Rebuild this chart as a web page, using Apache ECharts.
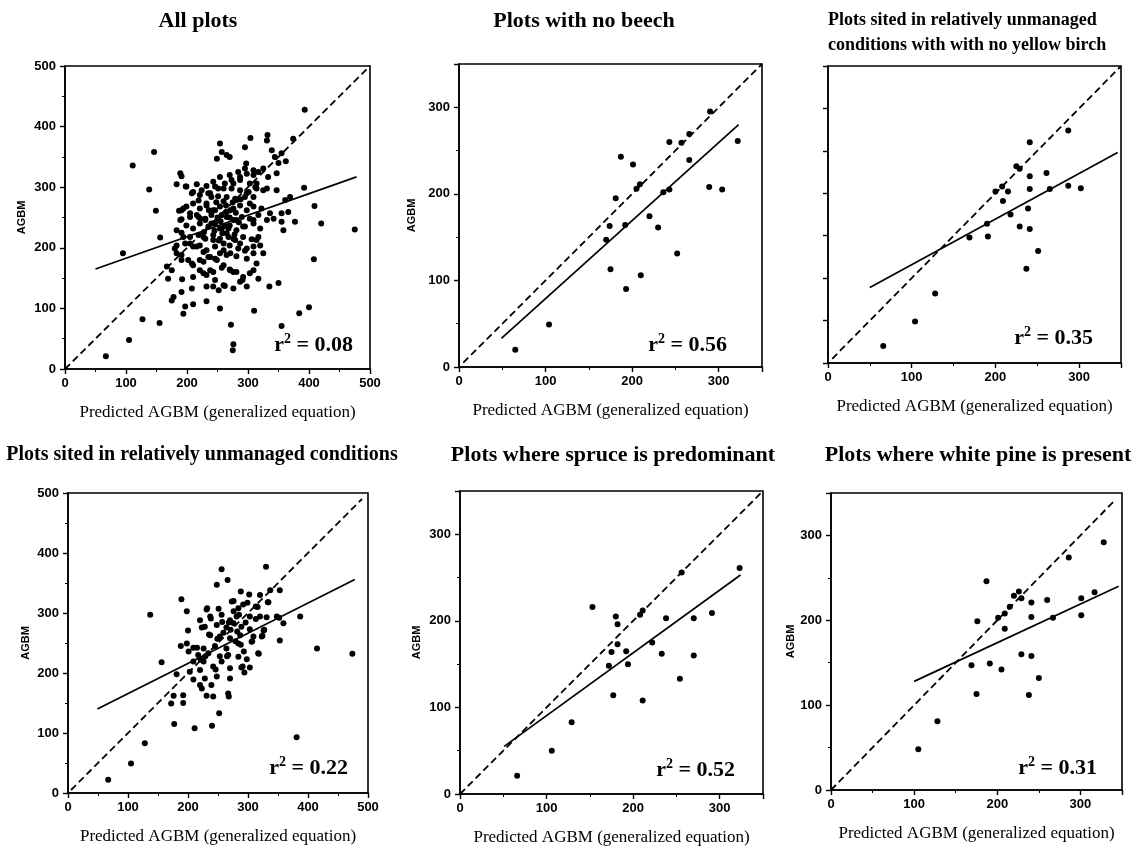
<!DOCTYPE html>
<html><head><meta charset="utf-8">
<script src="https://cdn.jsdelivr.net/npm/echarts@6/dist/echarts.min.js"></script>
<style>html,body{margin:0;padding:0;background:#fff}#chart{width:1144px;height:856px}</style>
</head><body><div id="chart"></div>
<script>
// ---------------- DATA ----------------
const panelTitles = [
  'All plots',
  'Plots with no beech',
  'Plots sited in relatively unmanaged\nconditions with with no yellow birch',
  'Plots sited in relatively unmanaged conditions',
  'Plots where spruce is predominant',
  'Plots where white pine is present'
];
const r2Values = ['0.08', '0.56', '0.35', '0.22', '0.52', '0.31'];
const axisMaxima = [500, 350, 350, 500, 350, 350];
const xAxisTitle = 'Predicted AGBM (generalized equation)';
const yAxisTitle = 'AGBM';

const oneToOneLines = [
  [[0, 0], [500, 500]],
  [[5, 5], [350, 350]],
  [[5, 5], [350, 350]],
  [[5, 5], [490, 490]],
  [[0, 0], [350, 350]],
  [[0, 0], [340, 340]]
];
const fitLines = [
  [[50, 165], [478, 317]],
  [[49, 33], [323, 280]],
  [[50, 89], [346, 248]],
  [[49, 140], [478, 356]],
  [[51, 55], [324, 253]],
  [[100, 128], [346, 240]]
];

const allPlotsPoints = [
  [67,21],[105,48],[95,191],[111,336],[127,82],[138,296],[146,358],[149,261],[155,76],[156,217],
  [194,91],[197,103],[210,107],[189,323],[191,318],[393,428],[392,299],[409,269],[420,240],[408,181],
  [475,230],[384,92],[400,102],[355,71],[350,142],[335,136],[317,149],[310,96],[272,73],[276,41],
  [275,31],[254,100],[232,112],[252,130],[262,137],[178,119],[175,113],[191,127],[169,149],[192,148],
  [175,163],[167,169],[180,199],[183,204],[191,247],[187,261],[191,225],[183,305],[198,301],[208,290],
  [216,305],[232,302],
  [254,372],[257,358],[249,347],[265,353],[270,350],[295,366],[304,381],[297,339],[332,386],[331,377],
  [339,361],[344,350],[355,356],[362,343],[374,380],[350,340],
  [254,317],[270,320],[284,325],[295,331],[309,320],[317,325],[325,331],[333,317],[347,323],[287,312],
  [276,306],[303,306],[314,306],[243,309],
  [199,301],[246,301],[260,298],[273,298],[287,295],[301,292],[314,298],[325,295],[331,298],[347,295],
  [221,287],[238,290],[251,285],[265,284],[279,281],[295,284],[309,284],[361,279],[369,284],
  [191,262],[199,268],[210,273],[221,265],[232,270],[243,262],[254,268],[265,259],[276,265],[287,270],
  [298,262],[309,268],[322,265],[336,257],[355,257],[366,259],[189,246],[205,251],[216,254],[230,248],
  [240,254],[251,248],[265,251],[276,246],[290,251],[303,248],[317,254],[331,246],[342,248],[377,243],
  [199,237],[210,232],[221,240],[235,235],[246,240],[257,232],[270,237],[281,229],[295,235],[309,240],
  [320,232],[358,229],[355,243],[205,218],[219,221],[230,215],[243,221],[254,215],[268,218],[279,213],
  [292,218],[306,214],[314,213],
  [197,207],[210,202],[221,204],[232,196],[246,202],[260,196],[270,204],[284,199],[295,195],[309,202],
  [320,204],[325,191],[191,188],[202,180],[221,180],[235,185],[246,182],[265,188],[281,186],[298,182],
  [208,174],[227,177],[243,160],[257,167],[270,164],[276,160],[309,163],[210,152],[227,158],[238,163],
  [291,147],[208,133],[232,136],[243,136],[298,136],
  [240,240],[245,228],[250,250],[255,244],[260,277],[262,236],[248,275],[270,250],[275,275],[280,258],
  [285,242],[258,224],[236,262],[228,226],[222,248],[268,232],[288,280],[278,222],[252,212],[264,270],
  [210,292],[219,278],[232,273],[240,284],[251,298],[262,306],[273,312],[287,317],[298,322],[309,328],
  [194,265],[205,257],[219,251],[230,246],[243,240],[254,232],[265,224],[276,215],[287,207],[298,199],
  [309,191],[183,229],[194,218],[205,207],[216,202],[227,193],[238,185],[249,180],[260,171],[271,163],
  [281,160],[292,152],[183,191],[191,180],[210,171],[221,163],[232,155],[246,147],[260,138],[276,133],
  [287,144],[303,158],[314,174],[317,218],[309,246],[303,273],[312,300],[298,290],[281,279],[271,262],
  [257,254],[246,262],[235,290],[224,295],[281,246],[292,235],[260,207],[243,213],[227,218],[271,191],
  [254,191]
];

const noBeechPoints = [
  [65,20],[104,49],[170,147],[174,163],[175,113],[181,195],[187,243],[192,164],[193,90],[201,234],
  [205,206],[209,211],[210,106],[220,174],[230,161],[236,202],[243,205],[243,260],[252,131],[257,259],
  [266,269],[266,239],[289,208],[290,295],[304,205],[322,261]
];

const unmanagedNoYellowBirchPoints = [
  [66,20],[104,49],[128,82],[169,148],[190,164],[191,149],[200,202],[208,208],[209,191],[215,202],
  [218,175],[225,232],[229,229],[229,161],[237,111],[239,182],[241,260],[241,220],[241,205],[241,158],
  [251,132],[261,224],[265,205],[287,274],[287,209],[302,206]
];

const unmanagedPoints = [
  [67,22],[105,49],[128,83],[474,232],
  [256,373],[330,377],[266,355],[248,347],[189,323],[198,303],[288,336],[302,331],[276,320],[292,314],
  [337,338],[353,338],[320,330],[333,318],[232,308],[251,307],[284,308],[313,311],[220,288],[223,276],
  [238,291],[256,297],[270,288],[281,294],[303,294],[320,294],[331,293],[348,294],[387,294],[228,277],
  [248,280],[264,276],[276,283],[289,277],[303,273],[326,271],[359,283],[200,271],[237,263],[253,261],
  [270,258],[287,263],[309,261],[323,261],[353,254],[198,249],[188,245],[209,242],[226,241],[245,245],
  [264,241],[284,249],[306,252],[415,241],[217,230],[234,233],[253,228],[267,230],[284,227],[298,223],
  [317,233],[156,218],[209,219],[226,219],[242,211],[256,219],[270,208],[289,209],[303,209],[181,198],
  [203,202],[220,205],[228,191],[248,194],[270,191],[294,201],[220,180],[239,180],[223,174],[176,162],
  [192,163],[231,162],[242,161],[267,166],[268,161],[172,149],[192,150],[252,133],[177,115],[211,108],
  [240,112],[381,93],[137,297],
  [201,236],[215,242],[229,228],[235,264],[237,294],[246,206],[249,257],[257,285],[259,267],[265,228],
  [268,284],[271,272],[273,319],[276,303],[279,253],[282,269],[285,297],[288,247],[291,211],[293,236],
  [296,284],[299,317],[307,253],[313,290],[316,310],[318,232],[324,262],[327,272],[334,318],[352,292],
  [221,222],[209,189],[231,306]
];

const sprucePoints = [
  [66,21],[106,50],[129,83],[153,216],[172,148],[175,164],[177,114],[180,205],[182,196],[182,173],
  [192,165],[194,150],[208,207],[211,212],[211,108],[222,175],[233,162],[238,203],[254,133],[256,256],
  [270,203],[270,160],[291,209],[323,261]
];

const whitePinePoints = [
  [105,48],[128,81],[169,147],[175,113],[176,199],[187,246],[191,149],[201,203],[205,142],[209,208],
  [209,190],[215,216],[220,229],[226,234],[229,226],[229,160],[238,112],[241,221],[241,158],[241,204],
  [250,132],[260,224],[267,203],[286,274],[301,226],[301,206],[317,233],[328,292]
];

const panelPoints = [allPlotsPoints, noBeechPoints, unmanagedNoYellowBirchPoints,
  unmanagedPoints, sprucePoints, whitePinePoints];

// ---------------- LAYOUT / STYLE ----------------
const layout = [
  {left:65, top:66, width:305, height:303, yGap:38, titleX:198, titleY:21, titleSize:22, r2X:353, r2Y:345},
  {left:459, top:64, width:303, height:303, yGap:42, titleX:584, titleY:21, titleSize:22, r2X:727, r2Y:345},
  {left:828, top:66, width:293, height:297, yGap:0, titleX:828, titleY:8, titleSize:18, r2X:1093, r2Y:338, noYLabels:true},
  {left:68, top:493, width:300, height:300, yGap:37, titleX:202, titleY:455, titleSize:20, r2X:348, r2Y:768},
  {left:460, top:491, width:303, height:303, yGap:38, titleX:613, titleY:455, titleSize:22, r2X:735, r2Y:770},
  {left:831, top:493, width:291, height:297, yGap:35, titleX:978, titleY:455, titleSize:22, r2X:1097, r2Y:768}
];
const SERIF = '"Liberation Serif", "Times New Roman", serif';
const SANS = '"Liberation Sans", Arial, sans-serif';
const black = '#000';

const grids = [], xAxes = [], yAxes = [], series = [], graphics = [];
layout.forEach((L, i) => {
  const max = axisMaxima[i];
  grids.push({left:L.left, top:L.top, width:L.width, height:L.height, show:true,
    borderColor:black, borderWidth:1.6, containLabel:false});
  const common = {
    type:'value', gridIndex:i, min:0, max:max,
    axisLine:{show:true, onZero:false, lineStyle:{color:black, width:1.6}},
    axisTick:{show:true, length:5, lineStyle:{color:black, width:1.4}},
    minorTick:{show:true, splitNumber:2, length:3, lineStyle:{color:black, width:1}},
    splitLine:{show:false}, minorSplitLine:{show:false},
    axisLabel:{color:black, fontFamily:SANS, fontWeight:'bold', fontSize:13, showMaxLabel: max === 500}
  };
  xAxes.push(Object.assign({}, common, {
    interval:100,
    axisLabel:Object.assign({}, common.axisLabel, {margin:8}),
    name:xAxisTitle, nameLocation:'middle', nameGap:35,
    nameTextStyle:{fontFamily:SERIF, fontSize:17, color:black}
  }));
  if (L.noYLabels) {
    yAxes.push(Object.assign({}, common, {
      interval:50, minorTick:{show:false},
      axisLabel:{show:false}
    }));
  } else {
    yAxes.push(Object.assign({}, common, {
      interval:100,
      axisLabel:Object.assign({}, common.axisLabel, {margin:9}),
      name:yAxisTitle, nameLocation:'middle', nameGap:L.yGap,
      nameTextStyle:{fontFamily:SANS, fontSize:11, fontWeight:'bold', color:black}
    }));
  }
  series.push({type:'scatter', xAxisIndex:i, yAxisIndex:i, data:panelPoints[i],
    symbol:'circle', symbolSize:6, itemStyle:{color:black, opacity:1}, silent:true, z:3});
  series.push({type:'line', xAxisIndex:i, yAxisIndex:i, data:oneToOneLines[i],
    showSymbol:false, symbol:'none', silent:true,
    lineStyle:{color:black, width:1.8, type:[7,4]}, z:2});
  series.push({type:'line', xAxisIndex:i, yAxisIndex:i, data:fitLines[i],
    showSymbol:false, symbol:'none', silent:true,
    lineStyle:{color:black, width:1.7, type:'solid'}, z:2});

  const multi = panelTitles[i].indexOf('\n') >= 0;
  graphics.push({type:'text', x:L.titleX, y:L.titleY, silent:true, style:{
    text:panelTitles[i], fill:black, fontFamily:SERIF, fontWeight:'bold', fontSize:L.titleSize,
    lineHeight:25,
    textAlign: multi ? 'left' : 'center', align: multi ? 'left' : 'center',
    textVerticalAlign: multi ? 'top' : 'middle', verticalAlign: multi ? 'top' : 'middle'
  }});
  graphics.push({type:'text', x:L.r2X, y:L.r2Y, silent:true, z:10, style:{
    text:'{r|r}{s|2}{r| = ' + r2Values[i] + '}',
    rich:{
      r:{fontFamily:SERIF, fontWeight:'bold', fontSize:22, fill:black, color:black, lineHeight:26},
      s:{fontFamily:SERIF, fontWeight:'bold', fontSize:14, fill:black, color:black, verticalAlign:'top', lineHeight:26}
    },
    fill:black, textAlign:'right', align:'right', textVerticalAlign:'middle', verticalAlign:'middle'
  }});
});

const chart = echarts.init(document.getElementById('chart'), null, {renderer:'canvas'});
chart.setOption({
  animation:false,
  backgroundColor:'#fff',
  grid:grids, xAxis:xAxes, yAxis:yAxes, series:series, graphic:graphics
});
</script></body></html>
